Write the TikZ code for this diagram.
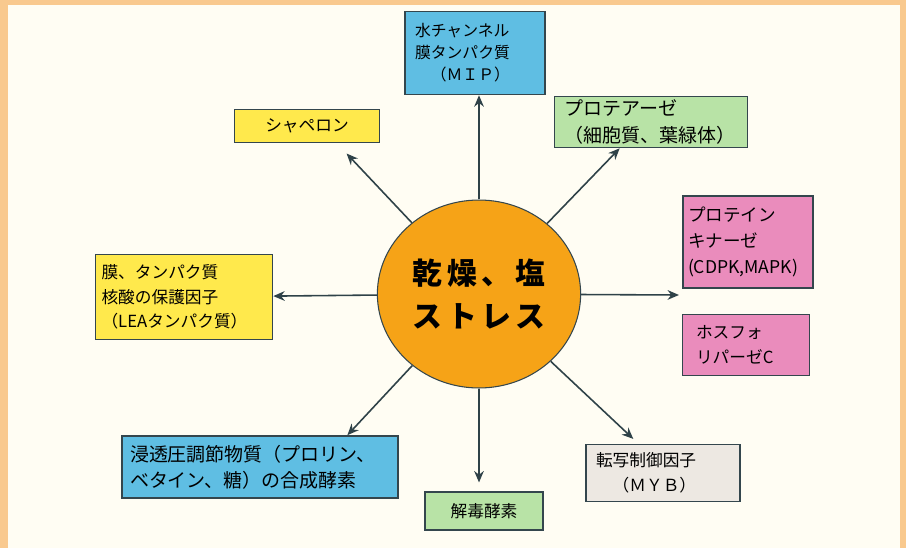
\documentclass[tikz,border=0pt]{standalone}
\usepackage{fontspec}
\setmainfont{Noto Sans CJK JP}
\newfontfamily\centrefont[LetterSpace=14]{Noto Sans CJK JP}
\usetikzlibrary{arrows.meta, shapes.geometric}
\definecolor{paperCream}{HTML}{FFFDF3}
\definecolor{edgeOrange}{HTML}{F9C98E}
\definecolor{boxLine}{HTML}{34464D}
\definecolor{arrowInk}{HTML}{2F4248}
\definecolor{mipBlue}{HTML}{5FBEE3}
\definecolor{leafGreen}{HTML}{B8E3A6}
\definecolor{lemonYellow}{HTML}{FFE94C}
\definecolor{rosePink}{HTML}{EA8CBC}
\definecolor{ashGrey}{HTML}{EDE8E2}
\definecolor{stressOrange}{HTML}{F6A317}

\begin{document}
\begin{tikzpicture}[x=0.02cm, y=-0.02cm,
    box/.style={rectangle, draw=boxLine, line width=0.9pt, fill=#1,
                inner xsep=0.2cm, inner ysep=0pt, align=left,
                font=\fontsize{9.5}{14}\selectfont},
    arr/.style={draw=arrowInk, line width=0.9pt,
                -{Stealth[length=6.5pt, width=5.5pt]}},
  ]
    \useasboundingbox (0,0) rectangle (906,548);
    \fill[edgeOrange] (0,0) rectangle (906,548);
    \fill[paperCream] (8,5) rectangle (900,548);

    \node[ellipse, draw=boxLine, line width=0.6pt, fill=stressOrange,
          minimum width=3.96cm, minimum height=3.76cm, align=center,
          font=\centrefont\bfseries\fontsize{17}{24}\selectfont] (stress) at (479,294)
          {乾燥、塩\\ストレス};

    \node[box=mipBlue, minimum width=2.8cm, minimum height=1.66cm, text width=2.4cm,
          font=\fontsize{9}{12.5}\selectfont] (mip) at (475,53)
          {水チャンネル\\膜タンパク質\\\hspace*{1em}（ＭＩＰ）};
    \node[box=leafGreen, minimum width=3.86cm, minimum height=1.02cm, text width=3.46cm,
          inner xsep=0.16cm, font=\fontsize{10.8}{15}\selectfont] (prot) at (651,122)
          {プロテアーゼ\\（細胞質、葉緑体）};
    \node[box=lemonYellow, minimum width=2.9cm, minimum height=0.66cm, align=center]
          (chap) at (307,126) {シャペロン};
    \node[box=rosePink, minimum width=2.6cm, minimum height=1.84cm, text width=2.4cm,
          inner xsep=0.1cm, font=\fontsize{10}{15}\selectfont] (kin) at (748,242)
          {プロテイン\\キナーゼ\\(CDPK,MAPK)};
    \node[box=rosePink, minimum width=2.54cm, minimum height=1.22cm, text width=2.0cm,
          inner xsep=0.27cm] (pho) at (746,345)
          {ホスフォ\\リパーゼC};
    \node[box=lemonYellow, minimum width=3.54cm, minimum height=1.7cm, text width=3.3cm,
          inner xsep=0.12cm] (lea) at (184,297)
          {膜、タンパク質\\核酸の保護因子\\（LEAタンパク質）};
    \node[box=mipBlue, minimum width=5.52cm, minimum height=1.24cm, text width=5.2cm,
          inner xsep=0.16cm, font=\fontsize{10.8}{15}\selectfont] (osmo) at (260,467)
          {浸透圧調節物質（プロリン、\\ベタイン、糖）の合成酵素};
    \node[box=ashGrey, minimum width=3.08cm, minimum height=1.14cm, text width=2.68cm]
          (myb) at (663,473) {転写制御因子\\\hspace*{1em}（ＭＹＢ）};
    \node[box=leafGreen, minimum width=2.36cm, minimum height=0.76cm, align=center]
          (detox) at (484,511) {解毒酵素};

    \coordinate (gap) at (679,295);

    \draw[arr] (stress.north) -- (stress.north |- mip.south);
    \draw[arr] (stress) -- (prot.220);
    \draw[arr, shorten >=8pt] (stress) -- (chap.-30);
    \draw[arr] (stress) -- (gap);
    \draw[arr] (stress) -- (lea);
    \draw[arr] (stress) -- (osmo.20);
    \draw[arr, shorten >=5pt] (stress.south) -- (stress.south |- detox.north);
    \draw[arr, shorten >=4pt] (stress) -- (myb.130);
\end{tikzpicture}
\end{document}
